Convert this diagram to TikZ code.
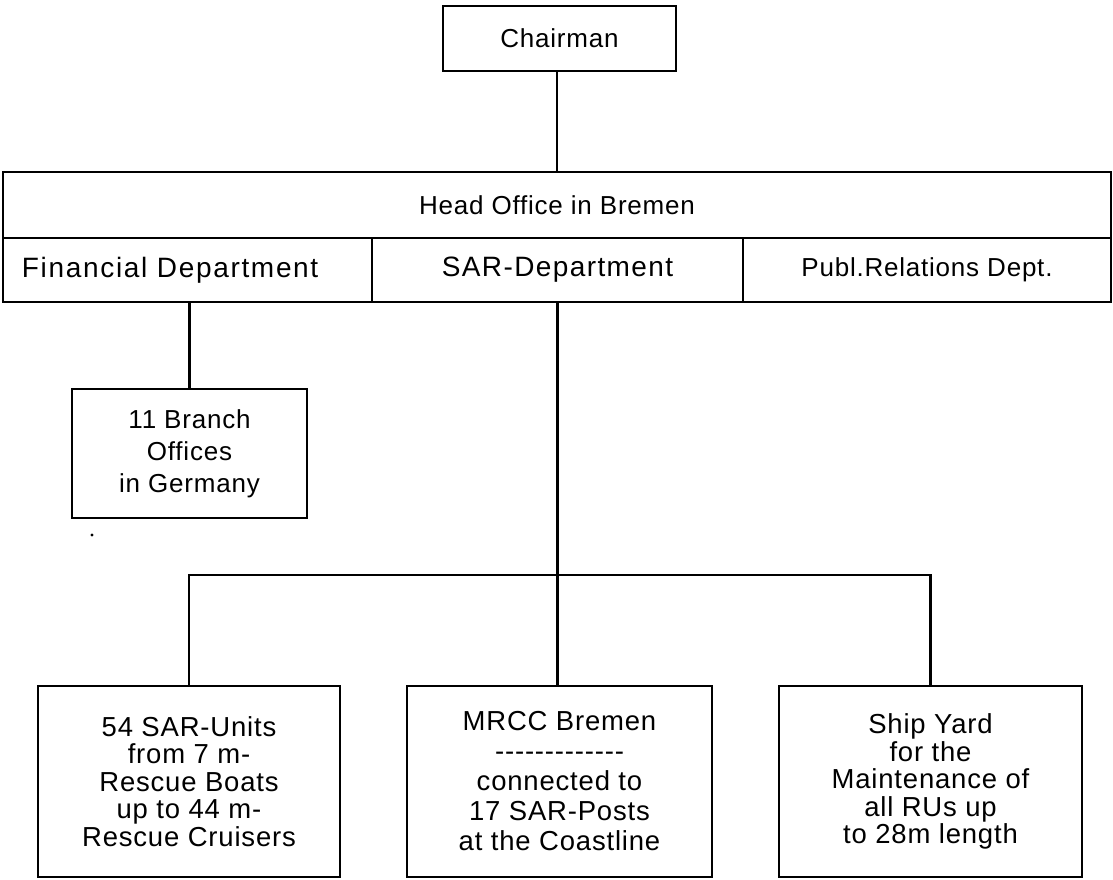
\documentclass[tikz,border=0pt]{standalone}
\usepackage{fontspec}
\setmainfont{Liberation Sans}[LetterSpace=3]
\begin{document}
\begin{tikzpicture}[x=0.75pt,y=-0.75pt,
  every node/.style={inner sep=0pt},
  box/.style={draw,line width=1.3pt,align=center,font=\fontsize{19.5pt}{20.6pt}\selectfont},
  lowbox/.style={box,minimum width=#1,minimum height=143.25pt,font=\fontsize{20.6pt}{20.6pt}\selectfont},
  conn/.style={draw,line width=1.7pt}]
\useasboundingbox (0,0) rectangle (1113,880);
% top level
\node[box,minimum width=174.75pt,minimum height=48.75pt] (chair) at (559.5,38.5) {Chairman};
\node[box,minimum width=831pt,minimum height=49.5pt] (head) at (557,205) {Head Office in Bremen};
\node[box,minimum width=276.75pt,minimum height=48pt,font=\fontsize{21pt}{21pt}\selectfont\addfontfeatures{LetterSpace=6}] (fin) at (187.5,270) {Financial Department\hspace*{26pt}};
\node[box,minimum width=278.25pt,minimum height=48pt,font=\fontsize{21pt}{21pt}\selectfont\addfontfeatures{LetterSpace=5}] (sar) at (557.5,270) {SAR-Department};
\node[box,minimum width=276pt,minimum height=48pt] (pr) at (927,270) {Publ.Relations Dept.};
% branch
\node[box,minimum width=176.25pt,minimum height=96.75pt,font=\fontsize{19.5pt}{24pt}\selectfont] (branch) at (189.5,453.5) {11 Branch\\Offices\\in Germany};
% bottom
\node[lowbox=226.5pt] (units) at (189,781.5) {54 SAR-Units\\from 7 m-\\Rescue Boats\\up to 44 m-\\Rescue Cruisers};
\node[lowbox=228.75pt,font=\fontsize{20.6pt}{22.5pt}\selectfont] (mrcc) at (559.5,781.5) {MRCC Bremen\\-{}-{}-{}-{}-{}-{}-{}-{}-{}-{}-{}-{}-\\connected to\\17 SAR-Posts\\at the Coastline};
\node[lowbox=227.25pt] (yard) at (930.5,781.5) {Ship Yard\\for the\\Maintenance of\\all RUs up\\to 28m length};
% connectors
\coordinate (bar) at (557,575);
\path[conn] (chair.south -| head.north) -- (head.north);
\path[conn] (branch.north) -- (branch.north |- fin.south);
\path[conn] (sar.south) -- (sar.south |- mrcc.north);
\path[conn] (units.north) -- (units.north |- bar) -- (yard.north |- bar) -- (yard.north);
% stray dot
\fill (92,535) circle (1.2pt);
\end{tikzpicture}
\end{document}
